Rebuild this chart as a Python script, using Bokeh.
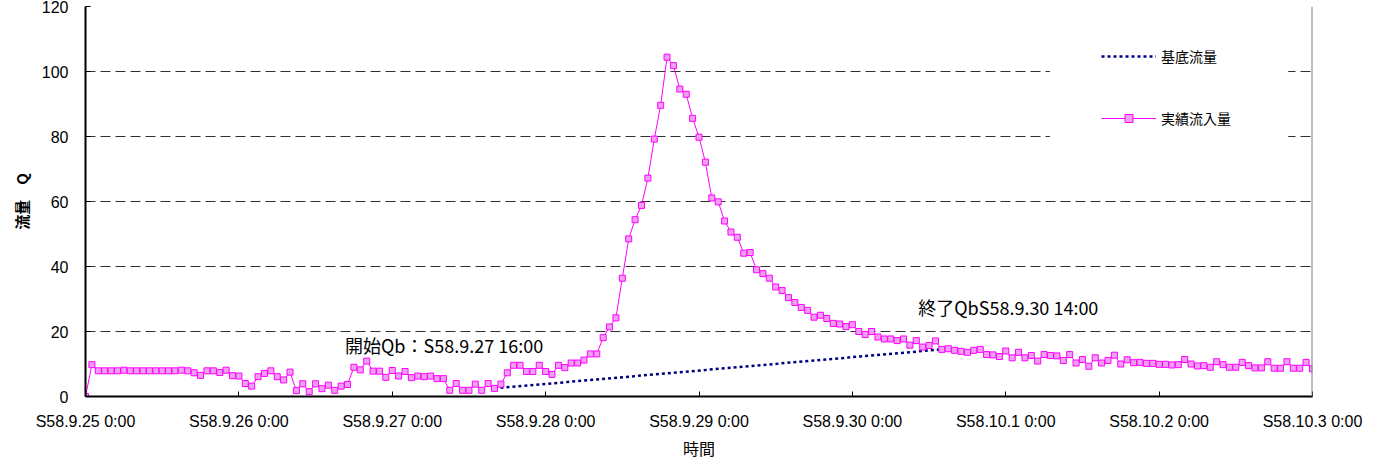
from bokeh.plotting import figure
from bokeh.models import FixedTicker, Legend, LegendItem, Label, BoxAnnotation, Span, Range1d
from bokeh.embed import file_html
from bokeh.resources import INLINE
from bokeh.core.properties import value

# ---- data ----
# hourly index from S58.9.25 0:00 (hour 0) to S58.10.3 0:00 (hour 192)
hours = list(range(193))
inflow = [
    0.0, 9.8, 7.9, 7.9, 7.9, 7.9, 8.1, 7.9, 7.9, 7.9, 7.9, 7.9, 7.9, 7.9, 7.9, 8.1,
    7.9, 7.3, 6.5, 7.9, 7.9, 7.4, 8.1, 6.4, 6.3, 4.0, 3.2, 6.1, 7.1, 7.9, 6.1, 5.1,
    7.5, 1.8, 3.9, 1.5, 3.9, 2.4, 3.5, 1.9, 3.2, 3.7, 9.0, 8.2, 10.9, 7.8, 7.8, 5.9,
    8.0, 6.3, 7.7, 5.8, 6.3, 6.1, 6.3, 5.5, 5.5, 1.9, 4.0, 1.9, 1.9, 3.8, 1.9, 4.0,
    2.5, 3.8, 7.3, 9.6, 9.6, 7.7, 7.7, 9.6, 7.7, 6.8, 9.6, 8.9, 10.3, 10.3, 11.2, 13.1,
    13.1, 18.1, 21.4, 24.2, 36.4, 48.5, 54.4, 58.8, 67.2, 79.2, 89.6, 104.4, 101.8, 94.6, 93.0, 85.6,
    79.8, 72.1, 61.1, 59.9, 54.0, 50.6, 49.0, 44.1, 44.3, 39.0, 37.8, 36.4, 33.7, 32.6, 30.4, 28.9,
    27.4, 26.5, 24.4, 25.0, 24.0, 22.5, 22.3, 21.5, 22.1, 20.0, 19.1, 20.0, 18.3, 17.7, 17.7, 17.2,
    17.7, 15.8, 17.2, 15.2, 15.7, 17.1, 14.5, 14.7, 14.2, 13.9, 13.6, 14.2, 14.5, 12.9, 12.8, 12.3,
    14.0, 11.9, 13.6, 11.9, 12.6, 10.9, 12.9, 12.6, 12.5, 11.1, 12.9, 10.3, 11.4, 9.3, 11.9, 10.3,
    11.1, 12.7, 10.0, 11.3, 10.4, 10.5, 10.2, 10.2, 9.9, 9.9, 9.7, 9.8, 11.4, 10.0, 9.4, 9.5,
    9.0, 10.7, 9.8, 9.0, 9.0, 10.5, 9.5, 8.8, 8.8, 10.7, 8.7, 8.7, 10.7, 8.7, 8.7, 10.5,
    8.5,
]
# base flow: start S58.9.27 16:00 (hour 64), end S58.9.30 14:00 (hour 134)
base_hours = [64, 134]
base_flow = [2.5, 14.5]

tick_hours = [0, 24, 48, 72, 96, 120, 144, 168, 192]
tick_labels = ["S58.9.25 0:00", "S58.9.26 0:00", "S58.9.27 0:00", "S58.9.28 0:00",
               "S58.9.29 0:00", "S58.9.30 0:00", "S58.10.1 0:00", "S58.10.2 0:00",
               "S58.10.3 0:00"]
y_ticks = [0, 20, 40, 60, 80, 100, 120]

series_names = ["基底流量", "実績流入量"]
note_texts = ["開始Qb：S58.9.27 16:00", "終了QbS58.9.30 14:00"]
note_x = [40.6, 130.3]
note_y = [15.7, 27.4]

JP = "Noto Sans CJK JP"
LAT = "Liberation Sans"

p = figure(width=1382, height=462, output_backend="svg", toolbar_location=None,
           x_range=Range1d(0, 192), y_range=Range1d(0, 120),
           min_border_left=85, min_border_right=70, min_border_top=6, min_border_bottom=0)
p.outline_line_color = None
p.background_fill_color = "white"

# axes
for ax in (p.xaxis[0], p.yaxis[0]):
    ax.axis_line_color = "black"
    ax.axis_line_width = 2
    ax.major_tick_in = 5
    ax.major_tick_out = 0
    ax.minor_tick_in = 0
    ax.minor_tick_out = 0
    ax.major_tick_line_color = "black"
    ax.major_label_text_font = LAT
    ax.major_label_text_font_size = "16px"
    ax.major_label_text_color = "black"
    ax.axis_label_text_font = JP
    ax.axis_label_text_color = "black"

p.xaxis.ticker = FixedTicker(ticks=tick_hours)
p.xaxis.major_label_overrides = {h: t for h, t in zip(tick_hours, tick_labels)}
p.xaxis.major_label_standoff = 16
p.xaxis.axis_label = "時間"
p.xaxis.axis_label_text_font_size = "16px"
p.xaxis.axis_label_text_font_style = "normal"
p.xaxis.axis_label_standoff = 3

p.yaxis.ticker = FixedTicker(ticks=y_ticks)
p.yaxis.major_label_standoff = 17
p.yaxis.axis_label = "流量　Q"
p.yaxis.axis_label_text_font_size = "15px"
p.yaxis.axis_label_text_font_style = "bold"
p.yaxis.axis_label_standoff = 7

# grid
p.xgrid.visible = False
p.ygrid.grid_line_color = "#303030"
p.ygrid.grid_line_dash = "10 5"
p.ygrid.grid_line_width = 1

# series
r_base = p.line(base_hours, base_flow, line_color="#000080", line_width=2.5, line_dash="3 3")
r_line = p.line(hours, inflow, line_color="#FF00FF", line_width=1)
r_mark = p.scatter(hours, inflow, marker="square", size=6, line_color="#FF00FF",
                   line_width=1, fill_color="#F0A0F0")

# right border
p.add_layout(Span(location=192, dimension="height", line_color="#808080", line_width=2))

# white area behind legend (hides gridlines as in original)
p.add_layout(BoxAnnotation(left=150.9, right=188.2, bottom=75, top=110,
                           fill_color="white", fill_alpha=1.0, line_color=None))

legend = Legend(items=[LegendItem(label=series_names[0], renderers=[r_base]),
                       LegendItem(label=series_names[1], renderers=[r_line, r_mark])],
                location="top_right", margin=40, padding=10, spacing=42,
                glyph_width=55, glyph_height=20, label_standoff=5, label_width=111,
                label_text_font=JP, label_text_font_size="14px", label_text_color="black",
                background_fill_color="white", background_fill_alpha=1.0,
                border_line_color=None)
p.add_layout(legend)

for t, x, y in zip(note_texts, note_x, note_y):
    p.add_layout(Label(x=x, y=y, text=t, text_font=JP, text_font_size="18px",
                       text_baseline="middle", text_align="left", text_color="black"))

open("out.html", "w").write(file_html(p, INLINE))
